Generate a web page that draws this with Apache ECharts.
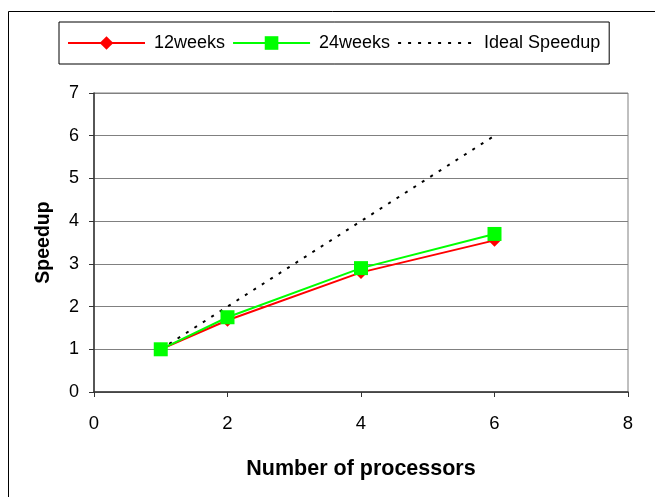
<!DOCTYPE html>
<html>
<head>
<meta charset="utf-8">
<script src="https://cdn.jsdelivr.net/npm/echarts@6/dist/echarts.min.js"></script>
<style>
  html, body { margin: 0; padding: 0; background: #fff; }
  #chart { width: 655px; height: 497px; }
</style>
</head>
<body>
<div id="chart"></div>
<script>
// Speedup measured for two run lengths, against linear speedup
const processors = [1, 2, 4, 6];
const speedup12 = [1.0, 1.68, 2.8, 3.55];
const speedup24 = [1.0, 1.75, 2.9, 3.7];
const idealSpeedup = [1, 2, 4, 6];
const seriesNames = ['12weeks', '24weeks', 'Ideal Speedup'];

const pairs = (xs, ys) => xs.map((x, i) => [x, ys[i]]);
const FONT = '"Liberation Sans", Arial, sans-serif';

const chart = echarts.init(document.getElementById('chart'), null, { renderer: 'canvas' });

chart.setOption({
  backgroundColor: '#ffffff',
  animation: false,
  graphic: [
    {
      type: 'rect',
      z: -10,
      shape: { x: 8.5, y: 11.5, width: 700, height: 600 },
      style: { fill: 'none', stroke: '#000', lineWidth: 1 }
    }
  ],
  legend: {
    left: 59,
    top: 22,
    padding: [12, 9, 12, 8],
    borderColor: '#000',
    borderWidth: 1,
    itemWidth: 77,
    itemHeight: 17,
    itemGap: 7,
    data: [
      { name: seriesNames[0] },
      { name: seriesNames[1] },
      { name: seriesNames[2], itemStyle: { opacity: 0 } }
    ],
    textStyle: {
      fontFamily: FONT,
      fontSize: 18,
      color: '#000',
      padding: [0, 0, 0, 4]
    }
  },
  grid: {
    left: 94,
    right: 27,
    top: 93,
    bottom: 105,
    show: true,
    borderColor: '#808080',
    borderWidth: 1,
    backgroundColor: 'transparent'
  },
  xAxis: {
    type: 'value',
    min: 0,
    max: 8,
    interval: 2,
    name: 'Number of processors',
    nameLocation: 'middle',
    nameGap: 66,
    nameTextStyle: {
      fontFamily: FONT,
      fontWeight: 'bold',
      fontSize: 21.5,
      color: '#000'
    },
    axisLine: { show: true, lineStyle: { color: '#333', width: 1.5 } },
    axisTick: { show: true, length: 5, lineStyle: { color: '#333' } },
    splitLine: { show: false },
    axisLabel: {
      margin: 22,
      fontFamily: FONT,
      fontSize: 18.5,
      color: '#000'
    }
  },
  yAxis: {
    type: 'value',
    min: 0,
    max: 7,
    interval: 1,
    name: 'Speedup',
    nameLocation: 'middle',
    nameGap: 40,
    nameRotate: 90,
    nameTextStyle: {
      fontFamily: FONT,
      fontWeight: 'bold',
      fontSize: 19.5,
      color: '#000'
    },
    axisLine: { show: true, lineStyle: { color: '#333', width: 1.5 } },
    axisTick: { show: true, length: 5, lineStyle: { color: '#333' } },
    splitLine: { show: true, lineStyle: { color: '#808080', width: 1 } },
    axisLabel: {
      margin: 15,
      fontFamily: FONT,
      fontSize: 18,
      color: '#000'
    }
  },
  series: [
    {
      name: seriesNames[0],
      type: 'line',
      data: pairs(processors, speedup12),
      symbol: 'diamond',
      symbolSize: 13,
      color: '#ff0000',
      lineStyle: { color: '#ff0000', width: 2 },
      itemStyle: { color: '#ff0000' },
      z: 3
    },
    {
      name: seriesNames[1],
      type: 'line',
      data: pairs(processors, speedup24),
      symbol: 'rect',
      symbolSize: 14,
      color: '#00ff00',
      lineStyle: { color: '#00ff00', width: 2 },
      itemStyle: { color: '#00ff00' },
      z: 4
    },
    {
      name: seriesNames[2],
      type: 'line',
      data: pairs(processors, idealSpeedup),
      symbol: 'none',
      color: '#000',
      lineStyle: { color: '#000', width: 2, type: [3, 7] },
      z: 2
    }
  ]
});
</script>
</body>
</html>
